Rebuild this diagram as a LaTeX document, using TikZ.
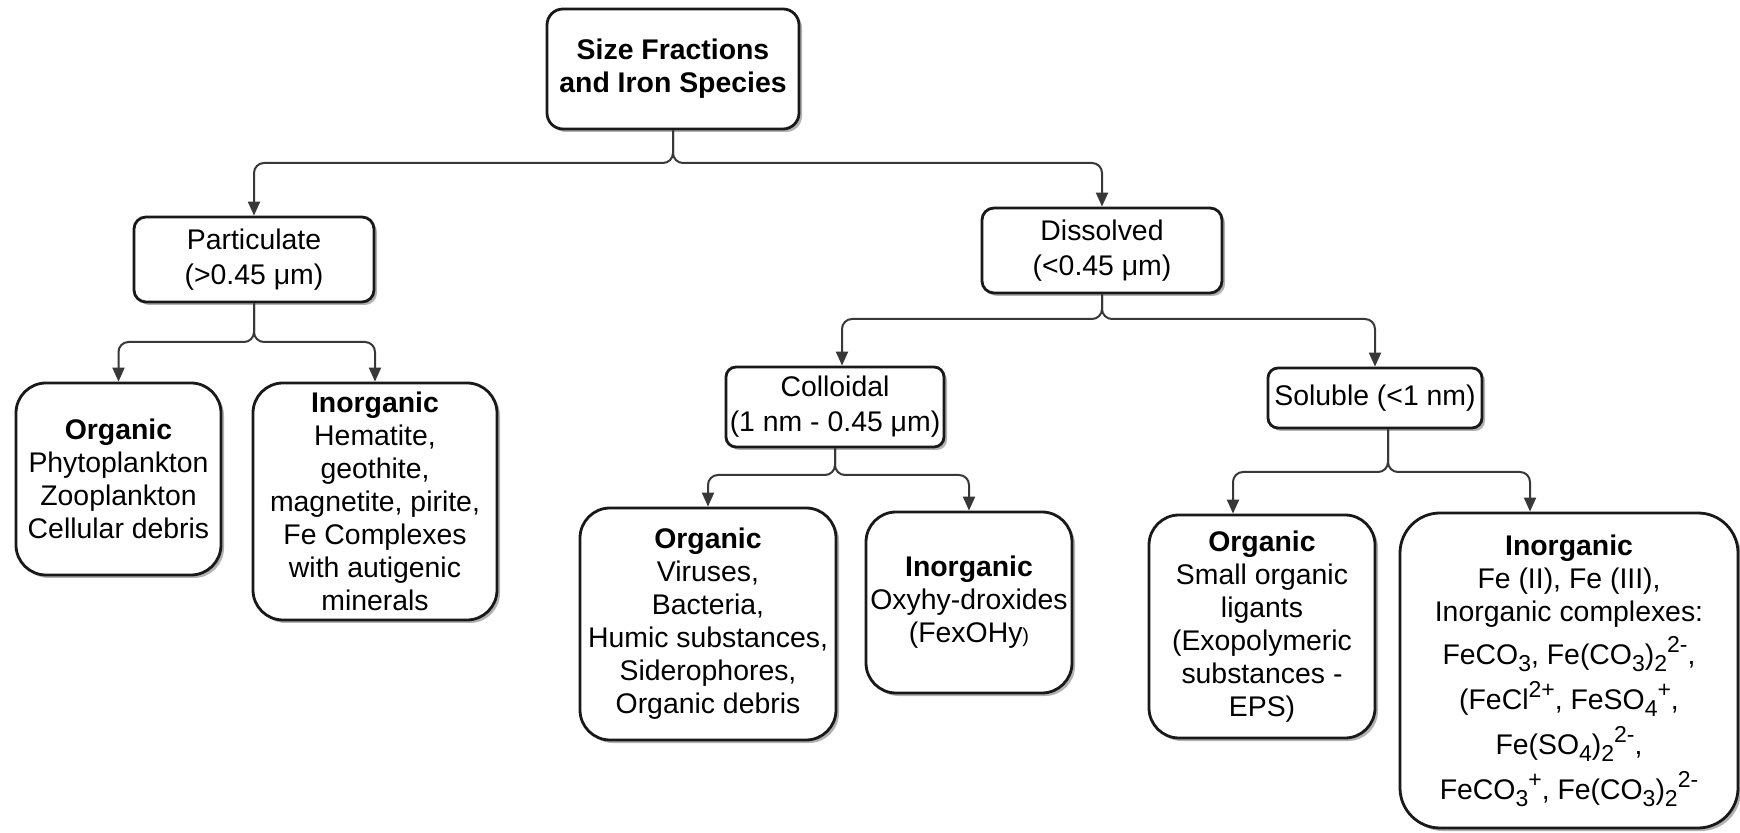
\documentclass[tikz,border=0pt]{standalone}
\usepackage{fontspec}
\setmainfont{Liberation Sans}
\usetikzlibrary{arrows.meta,shadows}
\newcommand\sbx[1]{\raisebox{-3.5pt}{\fontsize{11.5}{11.5}\selectfont #1}}
\newcommand\spx[1]{\raisebox{6pt}{\fontsize{11.5}{11.5}\selectfont #1}}
\lineskiplimit=-50pt
\begin{document}
\begin{tikzpicture}[x=0.5pt,y=-0.5pt,
  box/.style={draw=black!90, line width=1.4pt, fill=white, align=center, inner sep=0pt,
    font=\fontsize{14.2}{16.5}\selectfont,
    drop shadow={shadow xshift=1.5pt, shadow yshift=-1.5pt, opacity=0.3, fill=black}},
  smallbox/.style={box, font=\fontsize{14.2}{17.5}\selectfont},
  conn/.style={draw=black!78, line width=1pt, rounded corners=5pt, -{Triangle[length=7pt,width=6pt]}}]
\fill[white] (0,0) rectangle (1740,833);
\useasboundingbox (0,0) rectangle (1740,833);

\node[box, rounded corners=8pt, minimum width=126pt, minimum height=60pt] (root) at (673,69)
  {\bfseries Size Fractions\\\bfseries and Iron Species};
\node[smallbox, rounded corners=6pt, minimum width=120pt, minimum height=42.5pt] (part) at (254,259.5)
  {Particulate\\(>0.45 μm)};
\node[smallbox, rounded corners=6pt, minimum width=120pt, minimum height=42.5pt] (diss) at (1102,250.5)
  {Dissolved\\(<0.45 μm)};
\node[box, rounded corners=15pt, minimum width=102.5pt, minimum height=96pt] (lorg) at (118.5,479)
  {{\bfseries Organic}\\Phytoplankton\\Zooplankton\\Cellular debris};
\node[box, rounded corners=15pt, minimum width=122pt, minimum height=118.5pt] (linorg) at (375,501.5)
  {{\bfseries Inorganic}\\Hematite,\\geothite,\\magnetite, pirite,\\Fe Complexes\\with autigenic\\minerals};
\node[smallbox, rounded corners=5pt, minimum width=109pt, minimum height=40pt] (coll) at (835,407)
  {Colloidal\\(1 nm - 0.45 μm)};
\node[box, rounded corners=5pt, minimum width=107pt, minimum height=30pt] (sol) at (1375,398)
  {Soluble (<1 nm)};
\node[box, rounded corners=15pt, minimum width=128pt, minimum height=116pt] (corg) at (708,624)
  {{\bfseries Organic}\\Viruses,\\Bacteria,\\Humic substances,\\Siderophores,\\Organic debris};
\node[box, rounded corners=15pt, minimum width=103pt, minimum height=90.5pt] (cinorg) at (969,602.5)
  {{\bfseries Inorganic}\\Oxyhy-droxides\\(FexOHy{\fontsize{10}{10}\selectfont )}};
\node[box, rounded corners=15pt, minimum width=113pt, minimum height=111.5pt] (sorg) at (1262,626.5)
  {{\bfseries Organic}\\Small organic\\ligants\\(Exopolymeric\\substances -\\EPS)};
\node[box, rounded corners=20pt, minimum width=169pt, minimum height=157.5pt] (sinorg) at (1569,670.5)
  {{\bfseries Inorganic}\\Fe (II), Fe (III),\\Inorganic complexes:\\[5pt]
   FeCO\sbx{3}, Fe(CO\sbx{3})\sbx{2}\spx{2-},\\[6pt]
   (FeCl\spx{2+}, FeSO\sbx{4}\spx{+},\\[6pt]
   Fe(SO\sbx{4})\sbx{2}\spx{2-},\\[6pt]
   FeCO\sbx{3}\spx{+}, Fe(CO\sbx{3})\sbx{2}\spx{2-}};

\coordinate (j0) at (673,163);
\draw[conn] (root.south) -- (j0) -| (part.north);
\draw[conn] (root.south) -- (j0) -| (diss.north);
\coordinate (j1) at (254,342);
\draw[conn] (part.south) -- (j1) -| (lorg.north);
\draw[conn] (part.south) -- (j1) -| (linorg.north);
\coordinate (j2) at (1102,319);
\draw[conn] (diss.south) -- (j2) -| ([xshift=3.5pt]coll.north);
\draw[conn] (diss.south) -- (j2) -| (sol.north);
\coordinate (j3) at (835,475);
\draw[conn] (coll.south) -- (j3) -| (corg.north);
\draw[conn] (coll.south) -- (j3) -| (cinorg.north);
\coordinate (j4) at (1388,472);
\draw[conn] ([xshift=6.5pt]sol.south) -- (j4) -| ([xshift=-14.5pt]sorg.north);
\draw[conn] ([xshift=6.5pt]sol.south) -- (j4) -| ([xshift=-19.5pt]sinorg.north);
\end{tikzpicture}
\end{document}
